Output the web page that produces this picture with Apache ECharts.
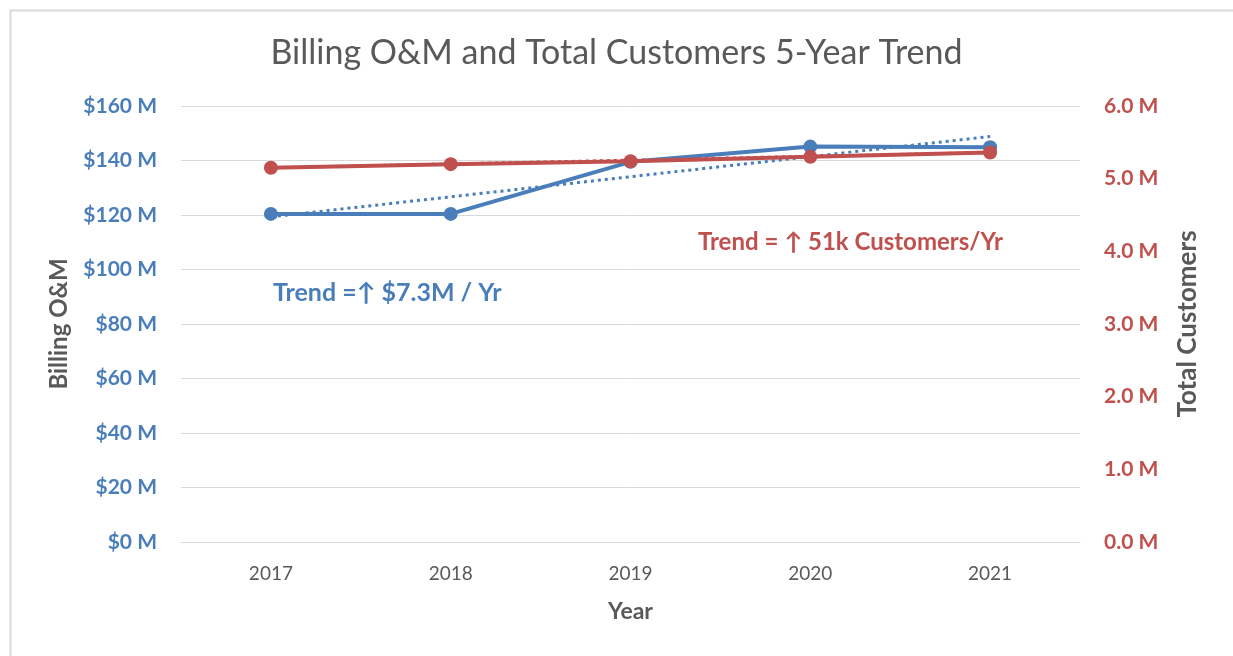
<!DOCTYPE html>
<html>
<head>
<meta charset="utf-8">
<script src="https://cdn.jsdelivr.net/npm/echarts@6/dist/echarts.min.js"></script>
<style>
  html, body { margin: 0; padding: 0; background: #fff; }
  #chart { width: 1233px; height: 656px; }
</style>
</head>
<body>
<div id="chart"></div>
<script>
// data
const years = ['2017', '2018', '2019', '2020', '2021']
const billingOM = [120.4, 120.4, 139.5, 145.1, 144.9]          // $ M
const customers = [5.15, 5.20, 5.24, 5.30, 5.36]               // M
// trend line ends (linear fit, as drawn)
const billingTrend = [119.3, null, null, null, 148.8]
const customerTrend = [5.15, null, null, null, 5.36]
const billingNote = 'Trend =↑ $7.3M / Yr'
const customerNote = 'Trend = ↑ 51k Customers/Yr'

const BLUE = '#4a7ebb'
const RED = '#c0504d'
const GREY = '#595959'
const FONT = 'Lato'

const chart = echarts.init(document.getElementById('chart'))

const option = {
  animation: false,
  textStyle: { fontFamily: FONT },
  title: {
    text: 'Billing O&M and Total Customers 5-Year Trend',
    left: 'center',
    top: 31,
    textStyle: { fontFamily: FONT, fontSize: 34, fontWeight: 'normal', color: GREY },
  },
  grid: { left: 181, right: 153, top: 106, bottom: 114 },
  xAxis: {
    type: 'category',
    data: years,
    boundaryGap: true,
    axisLine: { show: true, lineStyle: { color: '#d9d9d9', width: 1 } },
    axisTick: { show: false },
    axisLabel: { color: GREY, fontSize: 19, margin: 22, fontFamily: FONT },
    name: 'Year',
    nameLocation: 'middle',
    nameGap: 58,
    nameTextStyle: { color: GREY, fontSize: 23, fontWeight: 'bold', fontFamily: FONT },
  },
  yAxis: [
    {
      type: 'value',
      min: 0,
      max: 160,
      interval: 20,
      axisLine: { show: false },
      axisTick: { show: false },
      splitLine: { lineStyle: { color: '#d9d9d9', width: 1 } },
      axisLabel: {
        color: BLUE, fontSize: 21, fontWeight: 'bold', margin: 24, fontFamily: FONT,
        formatter: v => '$' + v + ' M',
      },
      name: 'Billing O&M',
      nameLocation: 'middle',
      nameGap: 110,
      nameTextStyle: { color: GREY, fontSize: 24, fontWeight: 'bold', fontFamily: FONT },
    },
    {
      type: 'value',
      min: 0,
      max: 6,
      interval: 1,
      position: 'right',
      axisLine: { show: false },
      axisTick: { show: false },
      splitLine: { show: false },
      axisLabel: {
        color: RED, fontSize: 21, fontWeight: 'bold', margin: 24, fontFamily: FONT,
        formatter: v => v.toFixed(1) + ' M',
      },
      name: 'Total Customers',
      nameLocation: 'middle',
      nameGap: 95,
      nameTextStyle: { color: GREY, fontSize: 26, fontWeight: 'bold', fontFamily: FONT },
    },
  ],
  series: [
    {
      name: 'Billing Trend',
      type: 'line',
      data: billingTrend,
      connectNulls: true,
      symbol: 'none',
      lineStyle: { color: BLUE, width: 3, type: [3, 4] },
      silent: true,
      z: 2,
    },
    {
      name: 'Billing O&M',
      type: 'line',
      data: billingOM,
      symbol: 'circle',
      symbolSize: 14,
      lineStyle: { color: BLUE, width: 4 },
      itemStyle: { color: BLUE },
      z: 3,
    },
    {
      name: 'Customer Trend',
      type: 'line',
      yAxisIndex: 1,
      data: customerTrend,
      connectNulls: true,
      symbol: 'none',
      lineStyle: { color: RED, width: 3, type: [3, 4] },
      silent: true,
      z: 4,
    },
    {
      name: 'Total Customers',
      type: 'line',
      yAxisIndex: 1,
      data: customers,
      symbol: 'circle',
      symbolSize: 14,
      lineStyle: { color: RED, width: 4 },
      itemStyle: { color: RED },
      z: 5,
    },
  ],
  graphic: [
    {
      type: 'rect',
      left: 8, top: 8,
      shape: { width: 1240, height: 660 },
      style: { fill: 'none', stroke: '#d9d9d9', lineWidth: 2 },
      silent: true,
    },
    {
      type: 'text',
      left: 273, top: 280,
      style: { text: billingNote, fill: BLUE, font: 'bold 25px ' + FONT },
    },
    {
      type: 'text',
      left: 698, top: 230,
      style: { text: customerNote, fill: RED, font: 'bold 24px ' + FONT },
    },
  ],
}

chart.setOption(option)
</script>
</body>
</html>
